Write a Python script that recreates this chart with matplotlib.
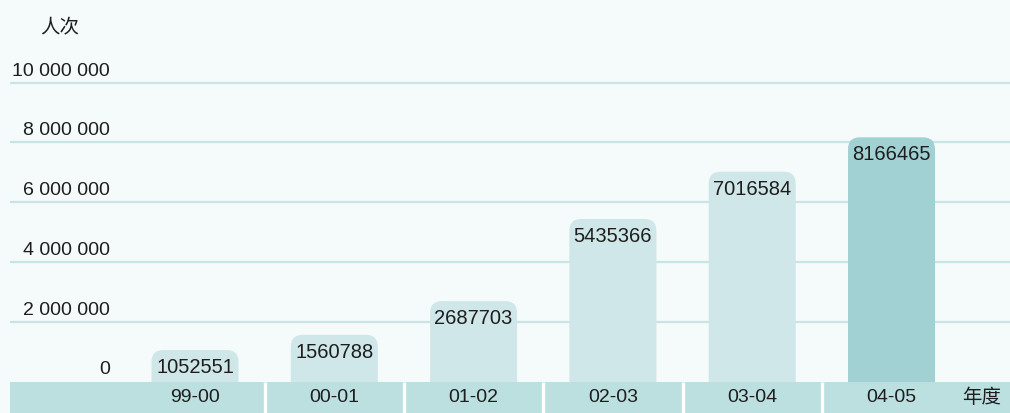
import matplotlib
matplotlib.use("Agg")
import matplotlib.pyplot as plt
from matplotlib.patches import FancyBboxPatch, Rectangle

plt.rcParams['font.family'] = ['Liberation Sans', 'Noto Sans CJK SC', 'DejaVu Sans']

categories = ["99-00", "00-01", "01-02", "02-03", "03-04", "04-05"]
values = [1052551, 1560788, 2687703, 5435366, 7016584, 8166465]
yticks = [0, 2000000, 4000000, 6000000, 8000000, 10000000]
ytick_labels = ["0", "2 000 000", "4 000 000", "6 000 000", "8 000 000", "10 000 000"]
y_unit = "人次"
x_unit = "年度"

W, H = 1010, 414
fig = plt.figure(figsize=(W / 100, H / 100), dpi=100)
bg = "#f5fafb"
fig.patch.set_facecolor(bg)
ax = fig.add_axes([0, 0, 1, 1])
ax.set_facecolor(bg)
ax.axis("off")

x0px, dxpx = 195.0, 139.3
ppm = 29.9 / 1e6  # pixels per unit
base_px = 31.5
ax.set_xlim((0 - x0px) / dxpx, (W - x0px) / dxpx)
ax.set_ylim(-base_px / ppm, (H - base_px) / ppm)

def px2x(p):
    return (p - x0px) / dxpx

xl = px2x(10)
xr = px2x(W)
txt = "#1e1e1e"

# gridlines
for t in yticks[1:]:
    ax.plot([xl, xr], [t, t], color="#c8e4e5", lw=1.6, zorder=1, solid_capstyle="butt")

# y tick labels
for t, lab in zip(yticks, ytick_labels):
    ax.text(px2x(110), t + 12.5 / ppm, lab, ha="right", va="center", fontsize=14, color=txt)

ax.text(px2x(60), (H - 27 - base_px) / ppm, y_unit, ha="center", va="center", fontsize=14, color=txt)

# bars
bw = 87.0 / dxpx
r_px = 12.0
aspect = (1 / ppm) / (1 / dxpx)
for i, v in enumerate(values):
    col = "#a1d1d3" if i == len(values) - 1 else "#cfe7e8"
    bottom = -20 / ppm
    p = FancyBboxPatch((i - bw / 2, bottom), bw, v - bottom,
                       boxstyle=f"round,pad=0,rounding_size={r_px / dxpx}",
                       mutation_aspect=aspect, facecolor=col, edgecolor="none", zorder=2)
    ax.add_patch(p)
    ax.text(i, v - 16.5 / ppm, f"{v}", ha="center", va="center", fontsize=14.5, color=txt, zorder=4)

# bottom band
ax.add_patch(Rectangle((xl, -base_px / ppm), xr - xl, base_px / ppm,
                       facecolor="#bcdfe0", edgecolor="none", zorder=3))
for i in range(len(categories) - 1):
    ax.plot([i + 0.5, i + 0.5], [-base_px / ppm, 0], color="white", lw=2.4, zorder=3.5, solid_capstyle="butt")
for i, c in enumerate(categories):
    ax.text(i, -15.5 / ppm, c, ha="center", va="center", fontsize=14, color=txt, zorder=4)
ax.text(px2x(982), -15.5 / ppm, x_unit, ha="center", va="center", fontsize=14, color=txt, zorder=4)

fig.savefig("out.png", dpi=100, facecolor=bg)
